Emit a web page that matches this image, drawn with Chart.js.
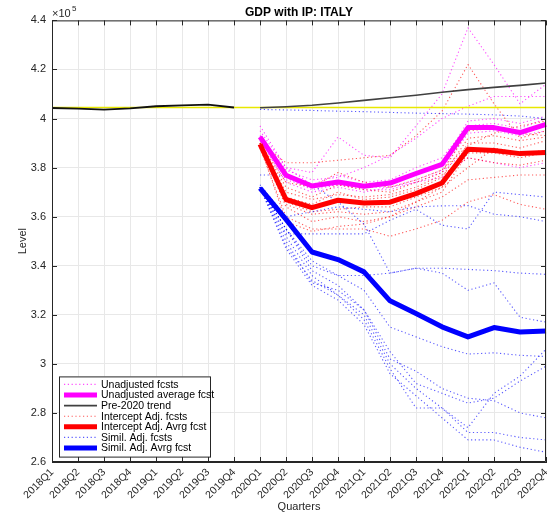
<!DOCTYPE html>
<html>
<head>
<meta charset="utf-8">
<script src="https://cdn.jsdelivr.net/npm/chart.js@4.4.1/dist/chart.umd.min.js"></script>
<style>
  html, body { margin: 0; padding: 0; background: #fff; }
  #wrap { width: 547px; height: 516px; }
</style>
</head>
<body>
<div id="wrap"><canvas id="gdpChart" width="547" height="516"></canvas></div>
<script>
// values are in units of 1e5
var quarters = ['2018Q1', '2018Q2', '2018Q3', '2018Q4', '2019Q1', '2019Q2', '2019Q3', '2019Q4',
    '2020Q1', '2020Q2', '2020Q3', '2020Q4', '2021Q1', '2021Q2', '2021Q3', '2021Q4',
    '2022Q1', '2022Q2', '2022Q3', '2022Q4'];
var yTicks = [2.6, 2.8, 3, 3.2, 3.4, 3.6, 3.8, 4, 4.2, 4.4];

var pastGdp = [4.043, 4.040, 4.036, 4.041, 4.050, 4.054, 4.057, 4.045];
var pre2020Trend = [4.044, 4.048, 4.054, 4.063, 4.074, 4.085, 4.095, 4.107, 4.118, 4.127, 4.135, 4.145];
var lastPreCovidLevel = 4.045;

// forecasts, 2020Q1 .. 2022Q4
var unadjAvg = [3.925, 3.769, 3.725, 3.741, 3.724, 3.737, 3.776, 3.813, 3.963, 3.963, 3.943, 3.976];
var interceptAvg = [3.895, 3.670, 3.637, 3.667, 3.656, 3.659, 3.694, 3.737, 3.875, 3.870, 3.857, 3.862];
var similAvg = [3.716, 3.589, 3.456, 3.425, 3.375, 3.257, 3.205, 3.151, 3.110, 3.148, 3.130, 3.134];

var unadjFcsts = [
    [3.95, 3.80, 3.78, 3.925, 3.85, 3.84, 3.97, 4.10, 4.37, 4.22, 4.06, 4.14],
    [3.93, 3.79, 3.75, 3.76, 3.80, 3.85, 3.92, 4.00, 4.05, 4.09, 4.09, 4.09],
    [3.92, 3.76, 3.72, 3.73, 3.72, 3.74, 3.77, 3.81, 3.99, 4.00, 3.98, 4.01],
    [3.91, 3.74, 3.70, 3.72, 3.70, 3.72, 3.75, 3.79, 3.94, 3.95, 3.93, 3.95],
    [3.93, 3.76, 3.71, 3.73, 3.71, 3.71, 3.74, 3.78, 3.88, 3.87, 3.85, 3.87],
    [3.92, 3.75, 3.72, 3.74, 3.72, 3.72, 3.74, 3.76, 3.84, 3.82, 3.80, 3.82],
    [3.97, 3.80, 3.73, 3.77, 3.74, 3.75, 3.80, 3.84, 3.97, 3.98, 3.96, 4.00]
];
var interceptFcsts = [
    [3.90, 3.82, 3.82, 3.83, 3.84, 3.85, 3.93, 4.03, 4.22, 4.06, 3.92, 3.95],
    [3.88, 3.60, 3.55, 3.55, 3.55, 3.52, 3.55, 3.585, 3.66, 3.69, 3.65, 3.63],
    [3.89, 3.64, 3.58, 3.60, 3.58, 3.60, 3.64, 3.68, 3.75, 3.76, 3.77, 3.77],
    [3.90, 3.68, 3.65, 3.70, 3.67, 3.68, 3.71, 3.76, 3.92, 3.93, 3.91, 3.925],
    [3.89, 3.66, 3.62, 3.63, 3.64, 3.64, 3.68, 3.72, 3.90, 3.90, 3.88, 3.91],
    [3.90, 3.70, 3.67, 3.69, 3.68, 3.69, 3.72, 3.77, 3.84, 3.82, 3.81, 3.83],
    [3.90, 3.72, 3.68, 3.73, 3.71, 3.70, 3.74, 3.78, 3.95, 3.96, 3.94, 3.93],
    [3.89, 3.65, 3.61, 3.62, 3.61, 3.62, 3.66, 3.70, 3.86, 3.86, 3.84, 3.86],
    [3.90, 3.74, 3.72, 3.78, 3.74, 3.72, 3.75, 3.79, 3.89, 3.94, 3.97, 3.99],
    [3.89, 3.58, 3.54, 3.56, 3.57, 3.60, 3.66, 3.72, 3.80, 3.88, 3.86, 3.87]
];
var similFcsts = [
    [4.037, 4.035, 4.033, 4.030, 4.028, 4.025, 4.022, 4.020, 4.018, 4.015, 4.010, 4.000],
    [3.72, 3.53, 3.53, 3.53, 3.53, 3.585, 3.63, 3.565, 3.55, 3.70, 3.69, 3.68],
    [3.77, 3.77, 3.73, 3.66, 3.57, 3.37, 3.39, 3.37, 3.30, 3.33, 3.19, 3.17],
    [3.72, 3.55, 3.42, 3.36, 3.36, 3.37, 3.39, 3.39, 3.385, 3.38, 3.37, 3.365],
    [3.72, 3.55, 3.40, 3.36, 3.30, 3.15, 3.11, 3.07, 3.04, 3.045, 3.035, 3.03],
    [3.72, 3.50, 3.33, 3.30, 3.22, 3.02, 2.97, 2.90, 2.86, 2.85, 2.80, 2.78],
    [3.72, 3.52, 3.36, 3.28, 3.18, 2.98, 2.82, 2.82, 2.74, 2.88, 2.95, 3.06],
    [3.72, 3.55, 3.38, 3.32, 3.22, 3.05, 2.92, 2.88, 2.84, 2.86, 2.93, 2.99],
    [3.72, 3.48, 3.34, 3.28, 3.20, 3.00, 2.90, 2.82, 2.72, 2.72, 2.70, 2.69],
    [3.72, 3.47, 3.32, 3.26, 3.16, 2.96, 2.87, 2.78, 2.69, 2.69, 2.66, 2.64],
    [3.73, 3.60, 3.62, 3.64, 3.63, 3.62, 3.64, 3.644, 3.645, 3.61, 3.60, 3.58]
];

var axisColor = '#262626';
var fontName = '"Liberation Sans", Arial, sans-serif';

function padForecast(arr) {
    return new Array(8).fill(null).concat(arr);
}

var datasets = [];

function addDotted(list, label, color, order) {
    list.forEach(function (vals, i) {
        datasets.push({
            label: i === 0 ? label : '_' + label + i,
            data: padForecast(vals),
            borderColor: color,
            borderWidth: 1.1,
            borderDash: [1.2, 2.6],
            pointRadius: 0,
            order: order
        });
    });
}

addDotted(unadjFcsts, 'Unadjusted fcsts', 'rgba(255, 0, 255, 0.7)', 7);
datasets.push({
    label: 'Unadjusted average fcst', data: padForecast(unadjAvg),
    borderColor: '#ff00ff', borderWidth: 5, pointRadius: 0, order: 2
});
datasets.push({
    label: 'Pre-2020 trend', data: padForecast(pre2020Trend),
    borderColor: '#404040', borderWidth: 1.6, pointRadius: 0, order: 3
});
addDotted(interceptFcsts, 'Intercept Adj. fcsts', 'rgba(255, 0, 0, 0.65)', 6);
datasets.push({
    label: 'Intercept Adj. Avrg fcst', data: padForecast(interceptAvg),
    borderColor: '#ff0000', borderWidth: 5, pointRadius: 0, order: 1
});
addDotted(similFcsts, 'Simil. Adj. fcsts', 'rgba(0, 0, 255, 0.65)', 5);
datasets.push({
    label: 'Simil. Adj. Avrg fcst', data: padForecast(similAvg),
    borderColor: '#0000ff', borderWidth: 5, pointRadius: 0, order: 0
});
datasets.push({
    label: '_pastGdp', data: pastGdp,
    borderColor: '#111111', borderWidth: 1.8, pointRadius: 0, order: 3
});
datasets.push({
    label: '_level', data: quarters.map(function () { return lastPreCovidLevel; }),
    borderColor: '#e8e800', borderWidth: 1.5, pointRadius: 0, order: 4
});

// MATLAB style box, inward ticks, exponent and legend inside the axes
var matlabAxes = {
    id: 'matlabAxes',
    afterDraw: function (chart) {
        var ctx = chart.ctx;
        var a = chart.chartArea;
        var xs = chart.scales.x, ys = chart.scales.y;
        ctx.save();
        ctx.strokeStyle = axisColor;
        ctx.lineWidth = 1;
        ctx.beginPath();
        ctx.rect(a.left + 0.5, a.top + 0.5, a.right - a.left - 1, a.bottom - a.top - 1);
        ctx.stroke();
        ctx.beginPath();
        quarters.forEach(function (q, i) {
            var x = Math.round(xs.getPixelForValue(i)) + 0.5;
            ctx.moveTo(x, a.bottom); ctx.lineTo(x, a.bottom - 5);
            ctx.moveTo(x, a.top); ctx.lineTo(x, a.top + 5);
        });
        yTicks.forEach(function (v) {
            var y = Math.round(ys.getPixelForValue(v)) + 0.5;
            ctx.moveTo(a.left, y); ctx.lineTo(a.left + 5, y);
            ctx.moveTo(a.right, y); ctx.lineTo(a.right - 5, y);
        });
        ctx.stroke();

        // exponent
        ctx.fillStyle = axisColor;
        ctx.textBaseline = 'alphabetic';
        ctx.textAlign = 'left';
        ctx.font = '11px ' + fontName;
        ctx.fillText('\u00d710', a.left, a.top - 3);
        ctx.font = '8px ' + fontName;
        ctx.fillText('5', a.left + 20, a.top - 9);

        // legend
        var items = chart.data.datasets.filter(function (d) { return d.label.charAt(0) !== '_'; });
        var bx = a.left + 7, by = a.top + 356, bw = 151, rowH = 10.6;
        var bh = items.length * rowH + 6;
        ctx.fillStyle = '#ffffff';
        ctx.fillRect(bx, by, bw, bh);
        ctx.strokeStyle = axisColor;
        ctx.lineWidth = 1;
        ctx.strokeRect(bx + 0.5, by + 0.5, bw, bh);
        ctx.font = '10.5px ' + fontName;
        ctx.textBaseline = 'middle';
        items.forEach(function (d, i) {
            var cy = by + 8 + i * rowH;
            ctx.save();
            ctx.strokeStyle = d.borderColor;
            ctx.lineWidth = d.borderWidth;
            ctx.setLineDash(d.borderDash || []);
            ctx.beginPath();
            ctx.moveTo(bx + 5, cy);
            ctx.lineTo(bx + 38, cy);
            ctx.stroke();
            ctx.restore();
            ctx.fillStyle = '#000000';
            ctx.fillText(d.label, bx + 42, cy + 0.5);
        });
        ctx.restore();
    }
};

var chart = new Chart(document.getElementById('gdpChart').getContext('2d'), {
    type: 'line',
    data: { labels: quarters, datasets: datasets },
    options: {
        responsive: false,
        animation: false,
        layout: { padding: { top: 0, right: 1, left: 0, bottom: 0 } },
        elements: { line: { tension: 0, borderCapStyle: 'butt', borderJoinStyle: 'round' } },
        plugins: {
            legend: { display: false },
            tooltip: { enabled: false },
            title: {
                display: true,
                fullSize: false,
                text: 'GDP with IP: ITALY',
                color: '#000000',
                font: { family: fontName, size: 12, weight: 'bold' },
                padding: { top: 5, bottom: 1 }
            }
        },
        scales: {
            x: {
                offset: false,
                grid: { color: '#e8e8e8', drawTicks: false },
                border: { color: axisColor },
                ticks: {
                    autoSkip: false, maxRotation: 45, minRotation: 45, padding: 4,
                    color: axisColor, font: { family: fontName, size: 10.5 }
                },
                title: {
                    display: true, text: 'Quarters', color: axisColor,
                    font: { family: fontName, size: 11 }, padding: { top: 0, bottom: 2 }
                },
                afterFit: function (s) { s.height = 54; s.paddingRight = 0; s.paddingLeft = 0; }
            },
            y: {
                min: 2.6, max: 4.4,
                afterBuildTicks: function (s) { s.ticks = yTicks.map(function (v) { return { value: v }; }); },
                grid: { color: '#e8e8e8', drawTicks: false },
                border: { color: axisColor },
                ticks: {
                    padding: 6, color: axisColor, font: { family: fontName, size: 11 },
                    callback: function (v) { return String(parseFloat(v.toFixed(1))); }
                },
                title: {
                    display: true, text: 'Level', color: axisColor,
                    font: { family: fontName, size: 11 }, padding: { top: 16, bottom: 2 }
                },
                afterFit: function (s) { s.width = 52; }
            }
        }
    },
    plugins: [matlabAxes]
});
</script>
</body>
</html>
